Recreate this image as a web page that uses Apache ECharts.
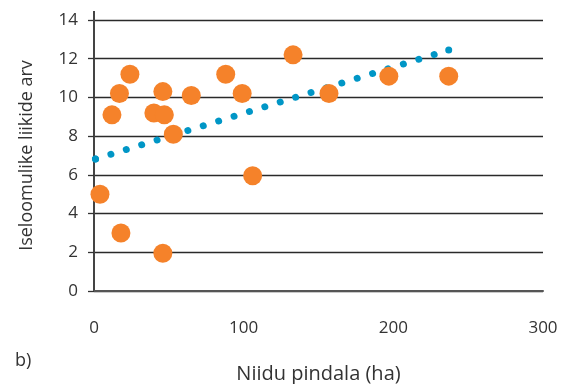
<!DOCTYPE html>
<html>
<head>
<meta charset="utf-8">
<script src="https://cdn.jsdelivr.net/npm/echarts@6/dist/echarts.min.js"></script>
<style>html,body{margin:0;padding:0;background:#fff}#c{width:573px;height:384px}</style>
</head>
<body>
<div id="c"></div>
<script>
// Data
const areaHa = [4, 12, 17, 24, 18, 40, 47, 46, 46, 53, 65, 88, 99, 106, 133, 157, 197, 237];
const speciesCount = [5.0, 9.1, 10.2, 11.2, 3.0, 9.2, 9.1, 10.3, 1.95, 8.1, 10.1, 11.2, 10.2, 5.95, 12.2, 10.2, 11.1, 11.1];
const trendX = [1, 237];
const trendY = [6.82, 12.45];
const yTicks = [0, 2, 4, 6, 8, 10, 12, 14];
const xTicks = [0, 100, 200, 300];

const points = areaHa.map((x, i) => [x, speciesCount[i]]);
const trend = trendX.map((x, i) => [x, trendY[i]]);

const font = '"Open Sans", sans-serif';
const txt = '#333';
const chart = echarts.init(document.getElementById('c'), null, {renderer: 'canvas'});
chart.setOption({
  animation: false,
  backgroundColor: '#fff',
  grid: {left: 94, right: 30, top: 20, bottom: 93, containLabel: false, outerBoundsMode: 'none'},
  xAxis: {
    type: 'value', min: xTicks[0], max: xTicks[xTicks.length - 1], interval: 100,
    name: 'Niidu pindala (ha)', nameLocation: 'middle', nameGap: 73,
    nameTextStyle: {fontFamily: font, fontSize: 20, color: txt},
    axisLine: {show: true, lineStyle: {color: '#555', width: 2}},
    axisTick: {show: false},
    splitLine: {show: false},
    axisLabel: {margin: 29, fontFamily: font, fontSize: 17, color: txt}
  },
  yAxis: {
    type: 'value', min: yTicks[0], max: yTicks[yTicks.length - 1], interval: 2,
    name: 'Iseloomulike liikide arv', nameLocation: 'middle', nameGap: 58,
    nameTextStyle: {fontFamily: font, fontSize: 18, color: txt},
    axisLine: {show: true, symbol: ['none', 'rect'], symbolSize: [2, 18],
      lineStyle: {color: '#444', width: 2}},
    axisTick: {show: true, length: 6, lineStyle: {color: '#333', width: 1.3}},
    splitLine: {show: true, lineStyle: {color: '#2a2a2a', width: 1.3}},
    axisLabel: {margin: 16, fontFamily: font, fontSize: 17, color: txt}
  },
  graphic: [{
    type: 'text', left: 15, top: 352,
    style: {text: 'b)', font: '18px ' + font, fill: txt}
  }],
  series: [
    {
      type: 'line', data: trend, z: 2,
      symbol: 'circle', symbolSize: 7, showSymbol: true,
      itemStyle: {color: '#0096c6', borderWidth: 0},
      lineStyle: {color: '#0096c6', width: 7, type: [0.01, 16.1], cap: 'round'}
    },
    {
      type: 'scatter', data: points, symbolSize: 19, z: 3,
      itemStyle: {color: '#f5822a', opacity: 1}
    }
  ]
});
</script>
</body>
</html>
